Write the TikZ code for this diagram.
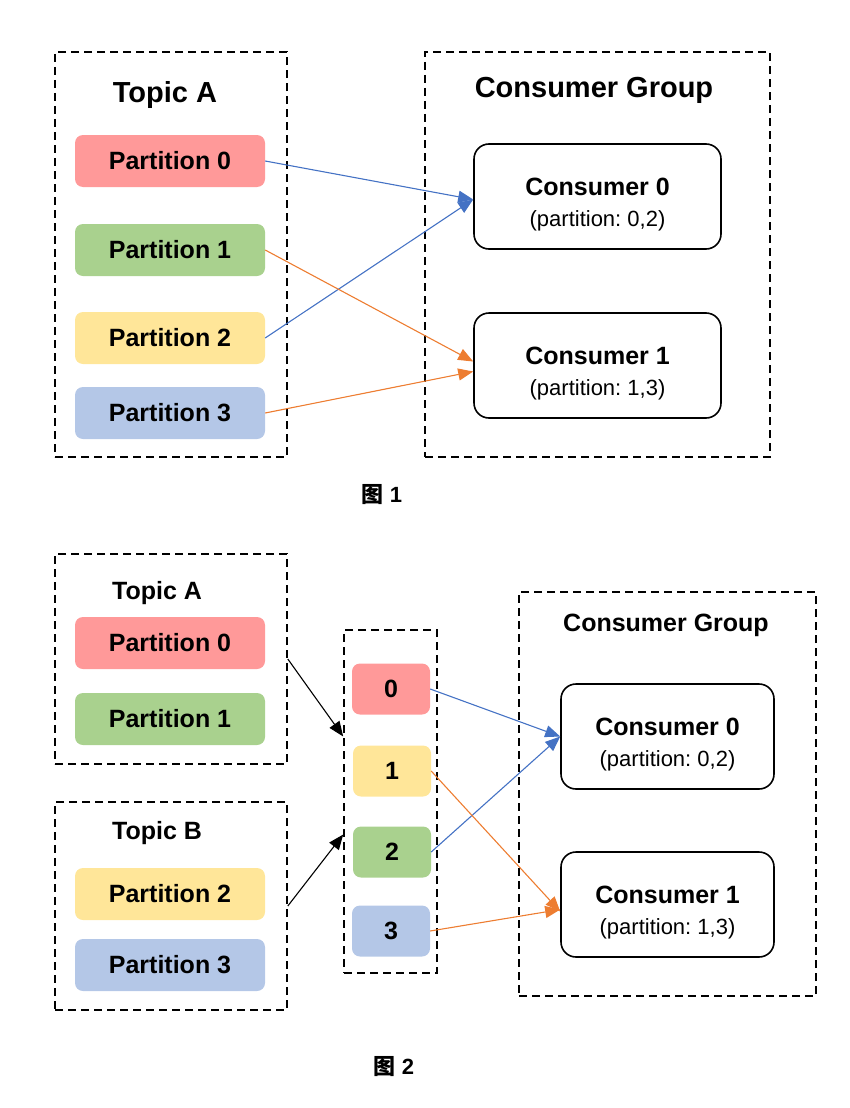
\documentclass[tikz,border=0pt]{standalone}
\usepackage{fontspec}
\setmainfont{Liberation Sans}
\newfontfamily\cjk{Noto Sans CJK SC}
\usetikzlibrary{arrows.meta}
\frenchspacing

\definecolor{pred}{HTML}{FF9999}
\definecolor{pgreen}{HTML}{A9D18E}
\definecolor{pyellow}{HTML}{FFE699}
\definecolor{pblue}{HTML}{B4C7E7}
\definecolor{lblue}{HTML}{4472C4}
\definecolor{lorange}{HTML}{ED7D31}

\tikzset{
  group/.style={draw, dashed, line width=1.6pt, dash pattern=on 8pt off 5pt, inner sep=0},
  part/.style={rounded corners=8pt, inner sep=0, minimum width=190pt, minimum height=52pt, font=\fontsize{25}{30}\selectfont\bfseries},
  num/.style={rounded corners=8pt, inner sep=0, minimum width=78pt, minimum height=51pt, font=\fontsize{25}{30}\selectfont\bfseries},
  consumer/.style={draw, line width=1.6pt, rounded corners=15pt, inner sep=0, minimum height=105pt, align=center, font=\fontsize{22}{31}\selectfont},
  link/.style={line width=1.1pt, -{Triangle[length=15pt, width=12pt]}},
}
\newcommand{\cname}[1]{{\fontsize{25}{31}\selectfont\bfseries\rule{0pt}{33pt}#1}}

\begin{document}
\begin{tikzpicture}[x=1pt, y=-1pt]
\useasboundingbox (0,0) rectangle (850,1108);

% figure 1
\node[group, minimum width=232pt, minimum height=405pt] (ta) at (171, 254.5) {};
\node[font=\fontsize{29}{34}\selectfont\bfseries] (tat) at (165, 95) {Topic A};
\node[part, fill=pred] (p0) at (170, 161) {Partition 0};
\node[part, fill=pgreen] (p1) at (170, 250) {Partition 1};
\node[part, fill=pyellow] (p2) at (170, 338) {Partition 2};
\node[part, fill=pblue] (p3) at (170, 413) {Partition 3};

\node[group, minimum width=345pt, minimum height=405pt] (cg) at (597.5, 254.5) {};
\node[font=\fontsize{29}{34}\selectfont\bfseries] (cgt) at (594, 90) {Consumer Group};
\node[consumer, minimum width=247pt] (c0) at (597.5, 196.5) {\cname{Consumer 0}\\(partition: 0,2)};
\node[consumer, minimum width=247pt] (c1) at (597.5, 365.5) {\cname{Consumer 1}\\(partition: 1,3)};

\draw[link, lblue] (p0.east) -- ([yshift=-3pt]c0.west);
\draw[link, lblue] (p2.east) -- ([yshift=-3pt]c0.west);
\draw[link, lorange] (p1.east) -- ([yshift=4pt]c1.west);
\draw[link, lorange] (p3.east) -- ([yshift=-6pt]c1.west);

\node[font=\fontsize{22}{26}\selectfont] (f1) at (382, 495) {{\cjk\bfseries 图} \textbf{1}};

% figure 2
\node[group, minimum width=232pt, minimum height=210pt] (tA) at (171, 659) {};
\node[font=\fontsize{25}{30}\selectfont\bfseries] (tAt) at (157, 593) {Topic A};
\node[part, fill=pred] (q0) at (170, 643) {Partition 0};
\node[part, fill=pgreen] (q1) at (170, 719) {Partition 1};

\node[group, minimum width=232pt, minimum height=208pt] (tB) at (171, 906) {};
\node[font=\fontsize{25}{30}\selectfont\bfseries] (tBt) at (157, 833) {Topic B};
\node[part, fill=pyellow] (q2) at (170, 894) {Partition 2};
\node[part, fill=pblue] (q3) at (170, 965) {Partition 3};

\node[group, minimum width=93pt, minimum height=343pt] (mid) at (390.5, 801.5) {};
\node[num, fill=pred] (n0) at (391, 689) {0};
\node[num, fill=pyellow] (n1) at (392, 771) {1};
\node[num, fill=pgreen] (n2) at (392, 852) {2};
\node[num, fill=pblue] (n3) at (391, 931) {3};

\draw[link, black] (tA.east) -- ([yshift=65pt]mid.west);
\draw[link, black] (tB.east) -- ([yshift=-33pt]mid.west);

\node[group, minimum width=297pt, minimum height=404pt] (cG) at (667.5, 794) {};
\node[font=\fontsize{25}{30}\selectfont\bfseries] (cGt) at (666, 625) {Consumer Group};
\node[consumer, minimum width=213pt] (d0) at (667.5, 736.5) {\cname{Consumer 0}\\(partition: 0,2)};
\node[consumer, minimum width=213pt] (d1) at (667.5, 904.5) {\cname{Consumer 1}\\(partition: 1,3)};

\draw[link, lblue] (n0.east) -- (d0.west);
\draw[link, lblue] (n2.east) -- (d0.west);
\draw[link, lorange] (n1.east) -- ([yshift=-7pt]d1.west);
\draw[link, lorange] (n3.east) -- ([yshift=-5pt]d1.west);

\node[font=\fontsize{22}{26}\selectfont] (f2) at (394, 1067) {{\cjk\bfseries 图} \textbf{2}};
\end{tikzpicture}
\end{document}
